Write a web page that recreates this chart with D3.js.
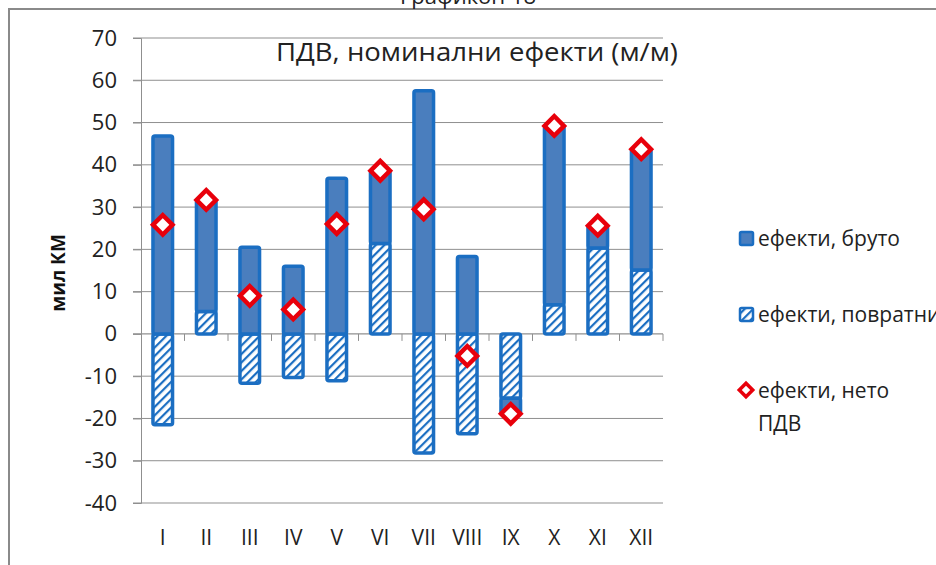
<!DOCTYPE html>
<html>
<head>
<meta charset="utf-8">
<script src="https://cdn.jsdelivr.net/npm/d3@7"></script>
<style>
body { margin: 0; background: #fff; }
svg { display: block; font-family: "Open Sans", sans-serif; }
</style>
</head>
<body>
<div id="graph"></div>
<script>
// months and values (mil KM)
var months = ["I", "II", "III", "IV", "V", "VI", "VII", "VIII", "IX", "X", "XI", "XII"];
var returns = [-21.5, 5.3, -11.7, -10.3, -11.1, 21.4, -28.2, -23.6, -15.2, 6.9, 20.3, 15.1];
var gross = [46.8, 26.4, 20.5, 16.0, 36.8, 17.2, 57.5, 18.3, -3.7, 42.3, 5.3, 28.6];
var net = [25.8, 31.7, 9.0, 5.8, 26.0, 38.6, 29.5, -5.2, -18.9, 49.2, 25.6, 43.7];
var yTicks = [70, 60, 50, 40, 30, 20, 10, 0, -10, -20, -30, -40];

var W = 936, H = 565;
var blue = "#1b6ec2", fillBlue = "#4a7ebe", red = "#e8000b", grid = "#8f8f8f";

var svg = d3.select("#graph").append("svg")
	.attr("width", W)
	.attr("height", H);

var defs = svg.append("defs");
var pat = defs.append("pattern")
	.attr("id", "hatch")
	.attr("patternUnits", "userSpaceOnUse")
	.attr("width", 6)
	.attr("height", 6)
	.attr("patternTransform", "rotate(45)");
pat.append("rect").attr("width", 6).attr("height", 6).attr("fill", "#fff");
pat.append("rect").attr("width", 2.2).attr("height", 6).attr("fill", blue);

// frame
svg.append("path")
	.attr("d", "M9,565V9H936")
	.attr("fill", "none")
	.attr("stroke", "#8a8a8a")
	.attr("stroke-width", 2);

// caption above the frame (cut off by the page edge, as in the source)
svg.append("text")
	.attr("x", 468).attr("y", 4)
	.attr("text-anchor", "middle")
	.attr("font-size", 22)
	.attr("fill", "#222")
	.text("Графикон 18");

var x = d3.scaleBand().domain(months).range([141, 663]).paddingInner(0.55).paddingOuter(0.275);
var y = d3.scaleLinear().domain([-40, 70]).range([503, 38]);

// gridlines
svg.append("g").selectAll("line")
	.data(yTicks)
	.enter()
	.append("line")
	.attr("x1", 133).attr("x2", 663)
	.attr("y1", function(d) { return y(d); })
	.attr("y2", function(d) { return y(d); })
	.attr("stroke", grid)
	.attr("stroke-width", function(d) { return d === 0 ? 1.3 : 1; });

// y axis
var yAxis = svg.append("g")
	.attr("transform", "translate(141,0)")
	.call(d3.axisLeft(y).tickValues(yTicks).tickSize(8).tickPadding(16)
		.tickFormat(function(d) { return String(d); }));
yAxis.select(".domain").attr("stroke", grid);
yAxis.selectAll(".tick line").attr("stroke", grid);
yAxis.selectAll("text").attr("font-size", 22).attr("fill", "#222").attr("font-family", "Open Sans");

svg.append("text")
	.attr("transform", "translate(65,273) rotate(-90)")
	.attr("text-anchor", "middle")
	.attr("font-size", 19)
	.attr("font-weight", "bold")
	.attr("fill", "#111")
	.text("мил КМ");

// x axis ticks on zero line
var step = x.step();
var bounds = d3.range(13).map(function(i) { return 141 + i * step; });
svg.append("g").selectAll("line")
	.data(bounds.slice(1))
	.enter()
	.append("line")
	.attr("x1", function(d) { return d; })
	.attr("x2", function(d) { return d; })
	.attr("y1", y(0)).attr("y2", y(0) + 7)
	.attr("stroke", grid);

svg.append("g").selectAll("text")
	.data(months)
	.enter()
	.append("text")
	.attr("x", function(d) { return x(d) + x.bandwidth() / 2; })
	.attr("y", 545)
	.attr("text-anchor", "middle")
	.attr("font-size", 21)
	.attr("fill", "#222")
	.text(function(d) { return d; });

// stacked bars
var rows = months.map(function(m, i) { return { m: m, returns: returns[i], gross: gross[i] }; });
var series = d3.stack().keys(["returns", "gross"]).offset(d3.stackOffsetDiverging)(rows);

svg.append("g").selectAll("g")
	.data(series)
	.enter()
	.append("g")
	.attr("fill", function(d) { return d.key === "gross" ? fillBlue : "url(#hatch)"; })
	.selectAll("rect")
	.data(function(d) { return d; })
	.enter()
	.append("rect")
	.attr("x", function(d) { return x(d.data.m); })
	.attr("width", x.bandwidth())
	.attr("y", function(d) { return y(Math.max(d[0], d[1])); })
	.attr("height", function(d) { return Math.abs(y(d[0]) - y(d[1])); })
	.attr("rx", 2)
	.attr("stroke", blue)
	.attr("stroke-width", 3.5);

// net markers
var diamond = d3.symbol().type(d3.symbolSquare).size(190);
svg.append("g").selectAll("path")
	.data(net)
	.enter()
	.append("path")
	.attr("d", diamond)
	.attr("transform", function(d, i) {
		return "translate(" + (x(months[i]) + x.bandwidth() / 2) + "," + y(d) + ") rotate(45)";
	})
	.attr("fill", "#fff")
	.attr("stroke", red)
	.attr("stroke-width", 4.5);

// title
svg.append("text")
	.attr("x", 477).attr("y", 61)
	.attr("text-anchor", "middle")
	.attr("font-size", 25)
	.attr("textLength", 402)
	.attr("lengthAdjust", "spacingAndGlyphs")
	.attr("fill", "#222")
	.text("ПДВ, номинални ефекти (м/м)");

// legend
var leg = svg.append("g");
leg.append("rect").attr("x", 740).attr("y", 232).attr("width", 13).attr("height", 13)
	.attr("fill", fillBlue).attr("stroke", blue).attr("stroke-width", 2.5).attr("rx", 1.5);
leg.append("rect").attr("x", 740).attr("y", 308).attr("width", 13).attr("height", 13)
	.attr("fill", "url(#hatch)").attr("stroke", blue).attr("stroke-width", 2.5).attr("rx", 1.5);
leg.append("path").attr("d", d3.symbol().type(d3.symbolSquare).size(90))
	.attr("transform", "translate(746,390) rotate(45)")
	.attr("fill", "#fff").attr("stroke", red).attr("stroke-width", 3.5);

var legText = [["ефекти, бруто", 246], ["ефекти, повратни", 322], ["ефекти, нето", 398], ["ПДВ", 431]];
leg.selectAll("text")
	.data(legText)
	.enter()
	.append("text")
	.attr("x", 758)
	.attr("y", function(d) { return d[1]; })
	.attr("font-size", 21)
	.attr("fill", "#222")
	.text(function(d) { return d[0]; });
</script>
</body>
</html>
